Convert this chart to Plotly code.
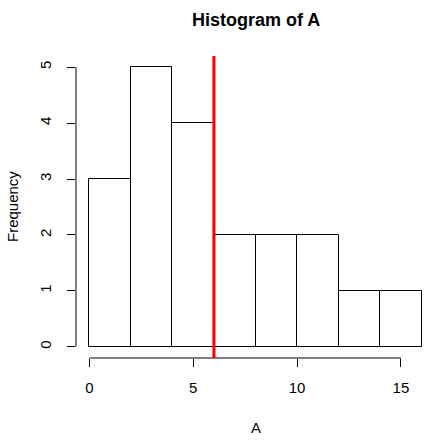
import plotly.graph_objects as go

bin_edges = [0, 2, 4, 6, 8, 10, 12, 14, 16]
counts = [3, 5, 4, 2, 2, 2, 1, 1]
x_ticks = [0, 5, 10, 15]
y_ticks = [0, 1, 2, 3, 4, 5]
ref_value = 6
title = "Histogram of A"
x_label = "A"
y_label = "Frequency"

centers = [(bin_edges[i] + bin_edges[i + 1]) / 2 for i in range(len(counts))]
widths = [bin_edges[i + 1] - bin_edges[i] for i in range(len(counts))]

xr = [bin_edges[0] - 0.04 * (bin_edges[-1] - bin_edges[0]), bin_edges[-1] + 0.04 * (bin_edges[-1] - bin_edges[0])]
ymax = max(counts)
yr = [-0.04 * ymax, ymax * 1.04]

font = "Liberation Sans, Arial, sans-serif"

fig = go.Figure()
fig.add_trace(go.Bar(x=centers, y=counts, width=widths,
                     marker=dict(color="white", line=dict(color="black", width=1)),
                     hoverinfo="skip"))

fig.update_layout(
    width=441, height=442,
    margin=dict(l=76, r=6, t=56, b=84),
    plot_bgcolor="white", paper_bgcolor="white",
    showlegend=False,
    font=dict(family=font, size=15, color="black"),
    xaxis=dict(range=xr, tickvals=x_ticks, showgrid=False, zeroline=False, showline=False,
               ticks="outside", ticklen=8, tickwidth=1, tickcolor="black",
               tickfont=dict(size=15), ticklabelstandoff=8),
    yaxis=dict(range=yr, tickvals=y_ticks, showgrid=False, zeroline=False, showline=False,
               ticks="outside", ticklen=8, tickwidth=1, tickcolor="black",
               tickangle=-90, tickfont=dict(size=15), ticklabelstandoff=10),
    bargap=0,
)

# R-style axis lines spanning tick range only
fig.add_shape(type="line", xref="x", yref="paper", x0=x_ticks[0], x1=x_ticks[-1], y0=0, y1=0,
              line=dict(color="black", width=1))
fig.add_shape(type="line", xref="paper", yref="y", x0=0, x1=0, y0=y_ticks[0], y1=y_ticks[-1],
              line=dict(color="black", width=1))
# reference line
fig.add_shape(type="line", xref="x", yref="paper", x0=ref_value, x1=ref_value, y0=0, y1=1,
              line=dict(color="#FF0000", width=3))

fig.add_annotation(text="<b>" + title + "</b>", xref="paper", yref="paper", x=0.5, y=1,
                   yshift=36, showarrow=False, font=dict(size=18, family=font), yanchor="middle")
fig.add_annotation(text=x_label, xref="paper", yref="paper", x=0.5, y=0, yshift=-69,
                   showarrow=False, font=dict(size=15, family=font), yanchor="middle")
fig.add_annotation(text=y_label, xref="paper", yref="paper", x=0, y=0.5, xshift=-64,
                   textangle=-90, showarrow=False, font=dict(size=15, family=font), xanchor="center")

fig.write_html("out.html")
